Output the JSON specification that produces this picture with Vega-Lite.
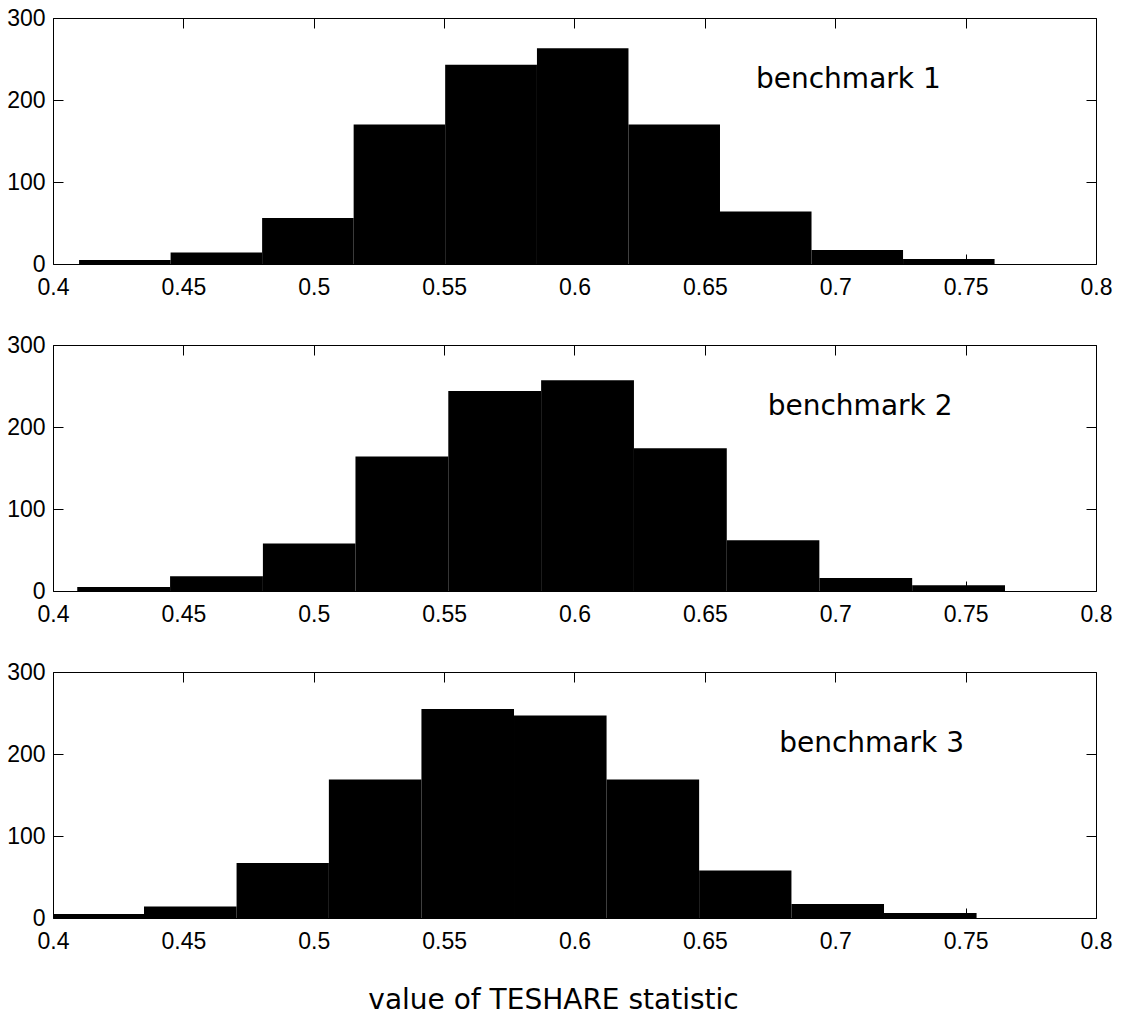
{
  "$schema": "https://vega.github.io/schema/vega-lite/v6.json",
  "padding": {"left": 6, "top": 6, "right": 5, "bottom": 5},
  "background": "white",
  "datasets": {
    "bins": [
      {"panel": 1, "start": 0.4100, "end": 0.4451, "count": 5},
      {"panel": 1, "start": 0.4451, "end": 0.4802, "count": 14},
      {"panel": 1, "start": 0.4802, "end": 0.5153, "count": 56},
      {"panel": 1, "start": 0.5153, "end": 0.5504, "count": 170},
      {"panel": 1, "start": 0.5504, "end": 0.5856, "count": 243},
      {"panel": 1, "start": 0.5856, "end": 0.6207, "count": 263},
      {"panel": 1, "start": 0.6207, "end": 0.6558, "count": 170},
      {"panel": 1, "start": 0.6558, "end": 0.6909, "count": 64},
      {"panel": 1, "start": 0.6909, "end": 0.7260, "count": 17},
      {"panel": 1, "start": 0.7260, "end": 0.7611, "count": 6},
      {"panel": 2, "start": 0.4093, "end": 0.4449, "count": 5},
      {"panel": 2, "start": 0.4449, "end": 0.4805, "count": 18},
      {"panel": 2, "start": 0.4805, "end": 0.5160, "count": 58},
      {"panel": 2, "start": 0.5160, "end": 0.5516, "count": 164},
      {"panel": 2, "start": 0.5516, "end": 0.5872, "count": 244},
      {"panel": 2, "start": 0.5872, "end": 0.6228, "count": 257},
      {"panel": 2, "start": 0.6228, "end": 0.6584, "count": 174},
      {"panel": 2, "start": 0.6584, "end": 0.6939, "count": 62},
      {"panel": 2, "start": 0.6939, "end": 0.7295, "count": 16},
      {"panel": 2, "start": 0.7295, "end": 0.7651, "count": 7},
      {"panel": 3, "start": 0.3994, "end": 0.4349, "count": 5},
      {"panel": 3, "start": 0.4349, "end": 0.4704, "count": 14},
      {"panel": 3, "start": 0.4704, "end": 0.5058, "count": 67},
      {"panel": 3, "start": 0.5058, "end": 0.5413, "count": 169},
      {"panel": 3, "start": 0.5413, "end": 0.5768, "count": 255},
      {"panel": 3, "start": 0.5768, "end": 0.6123, "count": 247},
      {"panel": 3, "start": 0.6123, "end": 0.6478, "count": 169},
      {"panel": 3, "start": 0.6478, "end": 0.6832, "count": 58},
      {"panel": 3, "start": 0.6832, "end": 0.7187, "count": 17},
      {"panel": 3, "start": 0.7187, "end": 0.7542, "count": 6}
    ],
    "labels": [
      {"panel": 1, "label": "benchmark 1"},
      {"panel": 2, "label": "benchmark 2"},
      {"panel": 3, "label": "benchmark 3"}
    ]
  },
  "vconcat": [
    {
      "width": 1043, "height": 246,
      "layer": [
        {
          "data": {"name": "bins"},
          "transform": [{"filter": "datum.panel == 1"}],
          "mark": {"type": "bar", "color": "black", "clip": true},
          "encoding": {
            "x": {"field": "start", "type": "quantitative", "scale": {"domain": [0.4, 0.8], "nice": false, "zero": false},
                  "axis": {"orient": "bottom", "values": [0.4, 0.45, 0.5, 0.55, 0.6, 0.65, 0.7, 0.75, 0.8], "format": ".2~f", "title": null, "labelPadding": 22}},
            "x2": {"field": "end"},
            "y": {"field": "count", "type": "quantitative", "scale": {"domain": [0, 300], "nice": false},
                  "axis": {"orient": "left", "values": [0, 100, 200, 300], "title": null, "labelPadding": 18}},
            "y2": {"datum": 0}
          }
        },
        {
          "data": {"name": "labels"},
          "transform": [{"filter": "datum.panel == 1"}],
          "mark": {"type": "text", "font": "DejaVu Sans", "fontSize": 28, "align": "left", "baseline": "alphabetic", "color": "black"},
          "encoding": {
            "x": {"datum": 0.6696, "type": "quantitative", "axis": {"orient": "top", "values": [0.4, 0.45, 0.5, 0.55, 0.6, 0.65, 0.7, 0.75, 0.8], "labels": false, "title": null}},
            "y": {"datum": 215, "type": "quantitative", "axis": {"orient": "right", "values": [0, 100, 200, 300], "labels": false, "title": null}},
            "text": {"field": "label"}
          }
        }
      ],
      "resolve": {"axis": {"x": "independent", "y": "independent"}}
    },
    {
      "width": 1043, "height": 246,
      "layer": [
        {
          "data": {"name": "bins"},
          "transform": [{"filter": "datum.panel == 2"}],
          "mark": {"type": "bar", "color": "black", "clip": true},
          "encoding": {
            "x": {"field": "start", "type": "quantitative", "scale": {"domain": [0.4, 0.8], "nice": false, "zero": false},
                  "axis": {"orient": "bottom", "values": [0.4, 0.45, 0.5, 0.55, 0.6, 0.65, 0.7, 0.75, 0.8], "format": ".2~f", "title": null, "labelPadding": 22}},
            "x2": {"field": "end"},
            "y": {"field": "count", "type": "quantitative", "scale": {"domain": [0, 300], "nice": false},
                  "axis": {"orient": "left", "values": [0, 100, 200, 300], "title": null, "labelPadding": 18}},
            "y2": {"datum": 0}
          }
        },
        {
          "data": {"name": "labels"},
          "transform": [{"filter": "datum.panel == 2"}],
          "mark": {"type": "text", "font": "DejaVu Sans", "fontSize": 28, "align": "left", "baseline": "alphabetic", "color": "black"},
          "encoding": {
            "x": {"datum": 0.6741, "type": "quantitative", "axis": {"orient": "top", "values": [0.4, 0.45, 0.5, 0.55, 0.6, 0.65, 0.7, 0.75, 0.8], "labels": false, "title": null}},
            "y": {"datum": 214.5, "type": "quantitative", "axis": {"orient": "right", "values": [0, 100, 200, 300], "labels": false, "title": null}},
            "text": {"field": "label"}
          }
        }
      ],
      "resolve": {"axis": {"x": "independent", "y": "independent"}}
    },
    {
      "width": 1043, "height": 246,
      "layer": [
        {
          "data": {"name": "bins"},
          "transform": [{"filter": "datum.panel == 3"}],
          "mark": {"type": "bar", "color": "black", "clip": true},
          "encoding": {
            "x": {"field": "start", "type": "quantitative", "scale": {"domain": [0.4, 0.8], "nice": false, "zero": false},
                  "axis": {"orient": "bottom", "values": [0.4, 0.45, 0.5, 0.55, 0.6, 0.65, 0.7, 0.75, 0.8], "format": ".2~f", "labelPadding": 22,
                           "title": "value of TESHARE statistic", "titleFont": "DejaVu Sans", "titleFontSize": 28, "titleFontWeight": "normal", "titleColor": "black", "titlePadding": 33, "titleX": 500}},
            "x2": {"field": "end"},
            "y": {"field": "count", "type": "quantitative", "scale": {"domain": [0, 300], "nice": false},
                  "axis": {"orient": "left", "values": [0, 100, 200, 300], "title": null, "labelPadding": 18}},
            "y2": {"datum": 0}
          }
        },
        {
          "data": {"name": "labels"},
          "transform": [{"filter": "datum.panel == 3"}],
          "mark": {"type": "text", "font": "DejaVu Sans", "fontSize": 28, "align": "left", "baseline": "alphabetic", "color": "black"},
          "encoding": {
            "x": {"datum": 0.6785, "type": "quantitative", "axis": {"orient": "top", "values": [0.4, 0.45, 0.5, 0.55, 0.6, 0.65, 0.7, 0.75, 0.8], "labels": false, "title": null}},
            "y": {"datum": 202.7, "type": "quantitative", "axis": {"orient": "right", "values": [0, 100, 200, 300], "labels": false, "title": null}},
            "text": {"field": "label"}
          }
        }
      ],
      "resolve": {"axis": {"x": "independent", "y": "independent"}}
    }
  ],
  "spacing": 81,
  "bounds": "flush",
  "config": {
    "view": {"stroke": "black", "strokeWidth": 1},
    "axis": {
      "domain": false, "grid": false,
      "ticks": true, "tickColor": "black", "tickSize": -10, "tickWidth": 1,
      "labelFont": "Liberation Sans", "labelFontSize": 23, "labelColor": "black",
      "labelPadding": 8, "labelFlush": false, "labelOverlap": false
    }
  }
}
